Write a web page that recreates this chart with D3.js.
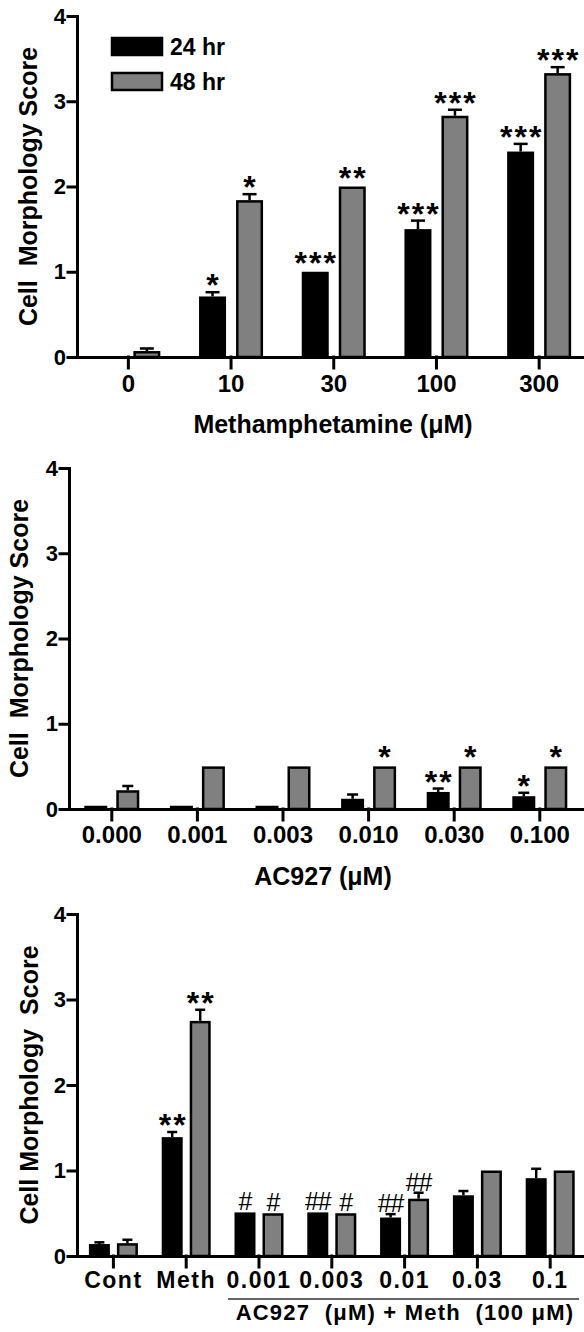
<!DOCTYPE html>
<html>
<head>
<meta charset="utf-8">
<script src="https://cdn.jsdelivr.net/npm/d3@7"></script>
<style>
  body { margin: 0; background: #fff; }
  svg text { font-family: "Liberation Sans", Arial, sans-serif; font-weight: bold; fill: #000; white-space: pre; }
</style>
</head>
<body>
<script>
// Panel A: methamphetamine dose response
var methCats = ["0", "10", "30", "100", "300"];
var meth24 = [0, 0.71, 1.0, 1.5, 2.41];
var meth24Err = [0, 0.05, 0, 0.1, 0.09];
var meth48 = [0.07, 1.84, 2.0, 2.83, 3.33];
var meth48Err = [0.03, 0.07, 0, 0.07, 0.07];
var meth24Sig = ["", "*", "***", "***", "***"];
var meth48Sig = ["", "*", "**", "***", "***"];

// Panel B: AC927 alone
var acCats = ["0.000", "0.001", "0.003", "0.010", "0.030", "0.100"];
var ac24 = [0, 0, 0, 0.12, 0.2, 0.15];
var ac24Err = [0, 0, 0, 0.05, 0.04, 0.04];
var ac48 = [0.22, 0.5, 0.5, 0.5, 0.5, 0.5];
var ac48Err = [0.05, 0, 0, 0, 0, 0];
var ac24Sig = ["", "", "", "", "**", "*"];
var ac48Sig = ["", "", "", "*", "*", "*"];

// Panel C: AC927 + Meth (100 uM)
var combCats = ["Cont", "Meth", "0.001", "0.003", "0.01", "0.03", "0.1"];
var comb24 = [0.14, 1.39, 0.51, 0.51, 0.45, 0.71, 0.91];
var comb24Err = [0.02, 0.06, 0, 0, 0.04, 0.05, 0.11];
var comb48 = [0.15, 2.75, 0.5, 0.5, 0.67, 1.0, 1.0];
var comb48Err = [0.04, 0.13, 0, 0, 0.07, 0, 0];
var comb24Sig = ["", "**", "#", "##", "##", "", ""];
var comb48Sig = ["", "**", "#", "#", "##", "", ""];

var seriesNames = ["24 hr", "48 hr"];
var yTicks = [0, 1, 2, 3, 4];

var svg = d3.select("body").append("svg")
    .attr("width", 584)
    .attr("height", 1332);

function drawPanel(p) {
    var g = svg.append("g");

    var x0 = d3.scaleBand()
        .domain(p.cats)
        .range([p.left, p.left + p.step * p.cats.length]);

    var x1 = d3.scaleBand()
        .domain(seriesNames)
        .range([-(p.gap / 2 + p.barW), p.gap / 2 + p.barW])
        .paddingInner(p.gap / (p.barW + p.gap));

    var y = d3.scaleLinear().domain([0, 4]).range([p.bottom, p.top]);

    var series = [
        { key: "24 hr", vals: p.v24, errs: p.e24, sig: p.s24, fill: "#000" },
        { key: "48 hr", vals: p.v48, errs: p.e48, sig: p.s48, fill: "#808080" }
    ];

    var sw = 2.5;
    series.forEach(function (s) {
        var rows = p.cats.map(function (c, i) {
            return { cat: c, v: s.vals[i], e: s.errs[i], sig: s.sig[i] };
        });
        function cx(d) { return x0(d.cat) + x0.bandwidth() / 2 + x1(s.key) + x1.bandwidth() / 2; }

        // error bars (upper only)
        var eb = g.selectAll(null).data(rows.filter(function (d) { return d.e > 0; })).enter();
        eb.append("line")
            .attr("x1", cx).attr("x2", cx)
            .attr("y1", function (d) { return y(d.v); })
            .attr("y2", function (d) { return y(d.v + d.e); })
            .attr("stroke", "#000").attr("stroke-width", sw);
        eb.append("line")
            .attr("x1", function (d) { return cx(d) - p.cap / 2; })
            .attr("x2", function (d) { return cx(d) + p.cap / 2; })
            .attr("y1", function (d) { return y(d.v + d.e); })
            .attr("y2", function (d) { return y(d.v + d.e); })
            .attr("stroke", "#000").attr("stroke-width", sw);

        // bars (zero bars only shown where the original shows a flat mark)
        var shown = rows.filter(function (d) { return d.v > 0 || p.showZero; });
        g.selectAll(null).data(shown).enter().append("rect")
            .attr("x", function (d) { return x0(d.cat) + x0.bandwidth() / 2 + x1(s.key) + sw / 2; })
            .attr("width", x1.bandwidth() - sw)
            .attr("y", function (d) { return Math.min(y(d.v) + sw / 2, y(0) - 2); })
            .attr("height", function (d) { return Math.max(y(0) - y(d.v) - sw / 2, 0.5); })
            .attr("fill", s.fill)
            .attr("stroke", "#000")
            .attr("stroke-width", sw);

        // significance marks
        var marks = g.selectAll(null).data(rows.filter(function (d) { return d.sig; })).enter().append("text")
            .attr("text-anchor", "middle")
            .text(function (d) { return d.sig; });
        marks.each(function (d) {
            var t = d3.select(this);
            var top = y(d.v + d.e);
            if (d.sig.charAt(0) === "*") {
                t.attr("x", cx(d) + 1)
                    .attr("y", top - (d.e > 0 ? 4 : 6) + 8)
                    .style("font-size", "32px")
                    .attr("letter-spacing", 2);
            } else {
                t.attr("x", cx(d))
                    .attr("y", top - 2)
                    .style("font-size", "25px")
                    .style("font-weight", "normal")
                    .attr("letter-spacing", -1);
            }
        });
    });

    // axes
    var yAxis = g.append("g")
        .attr("transform", "translate(" + p.left + ",0)")
        .call(d3.axisLeft(y).tickValues(yTicks).tickFormat(d3.format("d"))
            .tickSize(9).tickSizeOuter(0).tickPadding(2));
    yAxis.selectAll("text").style("font-size", "22px");

    var xAxis = g.append("g")
        .attr("transform", "translate(0," + p.bottom + ")")
        .call(d3.axisBottom(x0).tickSize(11).tickSizeOuter(0).tickPadding(p.tickPad));
    xAxis.selectAll("text").style("font-size", p.xFont + "px").attr("letter-spacing", p.xSpacing);

    g.selectAll(".domain, .tick line")
        .attr("stroke", "#000")
        .attr("stroke-width", 3)
        .attr("stroke-linecap", "square");

    // y title
    g.append("text")
        .attr("transform", "translate(" + p.yTitleX + "," + (p.top + p.bottom) / 2 + ") rotate(-90)")
        .attr("text-anchor", "middle")
        .style("font-size", "25px")
        .text(p.yTitle);

    return { x0: x0, y: y };
}

drawPanel({
    cats: methCats, v24: meth24, e24: meth24Err, s24: meth24Sig,
    v48: meth48, e48: meth48Err, s48: meth48Sig,
    left: 77, step: 102.7, top: 16, bottom: 357, showZero: false,
    barW: 27, gap: 10, cap: 14, tickPad: 7, xFont: 24, xSpacing: 0,
    yTitleX: 37, yTitle: "Cell  Morphology Score"
});

// x title, panel A
svg.append("text")
    .attr("x", 333).attr("y", 433)
    .attr("text-anchor", "middle")
    .style("font-size", "25px")
    .text("Methamphetamine (\u03bcM)");

// legend, panel A
var legend = svg.append("g");
seriesNames.forEach(function (name, i) {
    legend.append("rect")
        .attr("x", 112).attr("y", 38 + i * 35)
        .attr("width", 50).attr("height", 17)
        .attr("fill", i === 0 ? "#000" : "#808080")
        .attr("stroke", "#000").attr("stroke-width", 2.5);
    legend.append("text")
        .attr("x", 170).attr("y", 55 + i * 35)
        .style("font-size", "23px")
        .text(name);
});

drawPanel({
    cats: acCats, v24: ac24, e24: ac24Err, s24: ac24Sig,
    v48: ac48, e48: ac48Err, s48: ac48Sig,
    left: 69, step: 85.6, top: 468, bottom: 809, showZero: true,
    barW: 23, gap: 9, cap: 11, tickPad: 6, xFont: 24, xSpacing: 0,
    yTitleX: 28, yTitle: "Cell  Morphology Score"
});

svg.append("text")
    .attr("x", 323).attr("y", 885)
    .attr("text-anchor", "middle")
    .style("font-size", "25px")
    .text("AC927 (\u03bcM)");

drawPanel({
    cats: combCats, v24: comb24, e24: comb24Err, s24: comb24Sig,
    v48: comb48, e48: comb48Err, s48: comb48Sig,
    left: 77, step: 72.8, top: 914, bottom: 1256, showZero: true,
    barW: 21, gap: 7, cap: 10, tickPad: 5, xFont: 23, xSpacing: 1.5,
    yTitleX: 38, yTitle: "Cell Morphology  Score"
});

// group bracket, panel C
svg.append("line")
    .attr("x1", 228).attr("x2", 579)
    .attr("y1", 1299).attr("y2", 1299)
    .attr("stroke", "#333").attr("stroke-width", 1.5);

svg.append("text")
    .attr("x", 405).attr("y", 1320)
    .attr("text-anchor", "middle")
    .attr("letter-spacing", 1.2)
    .style("font-size", "22px")
    .text("AC927  (\u03bcM) + Meth  (100 \u03bcM)");
</script>
</body>
</html>
